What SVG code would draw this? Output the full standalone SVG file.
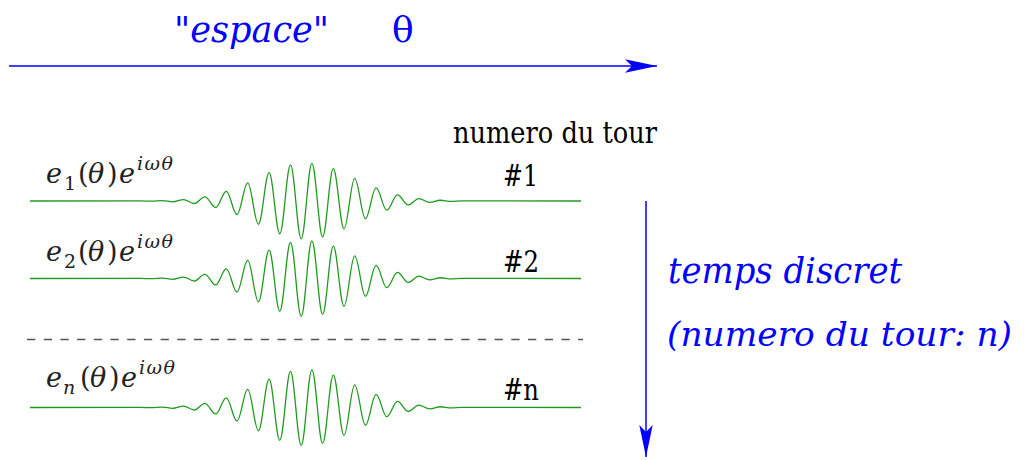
<svg xmlns="http://www.w3.org/2000/svg" xmlns:xlink="http://www.w3.org/1999/xlink" width="1026" height="460" viewBox="0 0 1026 460" font-family="DejaVu Serif, serif">
<style>
text{font-family:'DejaVu Serif',serif}
.blue{fill:#0000ff;font-style:italic;font-size:35px}
.num{fill:#000;font-size:29px}
.lbl{fill:#222;font-size:27px}
.it{font-style:italic}
.sm{font-size:19px}
.wave{fill:none;stroke:#1f9a1f;stroke-width:1.3}
.axis{stroke:#0000ff;stroke-width:1.5;fill:none}
</style>
<defs>
<marker id="arr" viewBox="-33 -8 34 16" refX="0" refY="0" markerWidth="34" markerHeight="16" markerUnits="userSpaceOnUse" orient="auto">
<path d="M0,0 L-32,-6.7 L-25,0 L-32,6.7 Z" fill="#0000ff"/>
</marker>
<path id="wave" class="wave" d="M30,0 L140.7,-0.1 C144.59,-0.1 147.51,0.21 151.4,0.21 S158.21,-0.42 162.1,-0.42 S168.91,0.81 172.8,0.81 S179.61,-1.46 183.5,-1.46 S190.31,2.52 194.2,2.52 S201.01,-4.13 204.9,-4.13 S211.71,6.45 215.6,6.45 S222.41,-9.58 226.3,-9.58 S233.11,13.52 237,13.52 S243.81,-18.17 247.7,-18.17 S254.51,23.24 258.4,23.24 S265.21,-28.28 269.1,-28.28 S275.91,32.74 279.8,32.74 S286.61,-36.07 290.5,-36.07 S297.31,37.81 301.2,37.81 S308.01,-37.71 311.9,-37.71 S318.71,35.8 322.6,35.8 S329.41,-32.33 333.3,-32.33 S340.11,27.78 344,27.78 S350.81,-22.71 354.7,-22.71 S361.51,17.67 365.4,17.67 S372.21,-13.08 376.1,-13.08 S382.91,9.21 386.8,9.21 S393.61,-6.18 397.5,-6.18 S404.31,3.94 408.2,3.94 S415.01,-2.39 418.9,-2.39 S425.71,1.38 429.6,1.38 S436.41,-0.76 440.3,-0.76 S447.11,0.4 451,0.4 S457.81,-0.2 461.7,-0.2 L581,0"/>
</defs>

<g id="connectors">
<line class="axis" x1="9" y1="66" x2="657" y2="66" marker-end="url(#arr)"/>
<line class="axis" x1="646" y1="201" x2="646" y2="457" marker-end="url(#arr)"/>
<line x1="27" y1="339.5" x2="583" y2="339.5" stroke="#555" stroke-width="1.3" stroke-dasharray="8.3 8.4"/>
</g>

<g id="space-label">
<text class="blue" x="174" y="42" textLength="155" lengthAdjust="spacingAndGlyphs">"espace"</text>
<text class="blue" x="392" y="42" style="font-style:normal;font-size:36px">θ</text>
</g>

<g id="time-label">
<text class="blue" x="668" y="283" textLength="234" lengthAdjust="spacingAndGlyphs">temps discret</text>
<text class="blue" x="667" y="346" style="font-size:33px" textLength="345" lengthAdjust="spacingAndGlyphs">(numero du tour: n)</text>
</g>

<g id="tour-header">
<text class="num" x="453" y="143" textLength="204" lengthAdjust="spacingAndGlyphs">numero du tour</text>
</g>

<g id="row1">
<use xlink:href="#wave" href="#wave" y="201"/>
<text class="lbl"><tspan class="it" x="46" y="183">e</tspan><tspan class="sm" x="64" y="190">1</tspan><tspan x="78" y="183">(</tspan><tspan class="it" x="88" y="183">θ</tspan><tspan x="107" y="183">)</tspan><tspan class="it" x="119" y="183">e</tspan><tspan class="it sm" x="137" y="170" letter-spacing="1.5">iωθ</tspan></text>
<text class="num" x="503" y="186" textLength="35" lengthAdjust="spacingAndGlyphs">#1</text>
</g>

<g id="row2">
<use xlink:href="#wave" href="#wave" y="278.5"/>
<text class="lbl"><tspan class="it" x="46" y="261">e</tspan><tspan class="sm" x="64" y="268">2</tspan><tspan x="78" y="261">(</tspan><tspan class="it" x="88" y="261">θ</tspan><tspan x="107" y="261">)</tspan><tspan class="it" x="119" y="261">e</tspan><tspan class="it sm" x="137" y="248" letter-spacing="1.5">iωθ</tspan></text>
<text class="num" x="503" y="272" textLength="36" lengthAdjust="spacingAndGlyphs">#2</text>
</g>

<g id="rown">
<use xlink:href="#wave" href="#wave" y="407.5"/>
<text class="lbl"><tspan class="it" x="46" y="387">e</tspan><tspan class="it sm" x="63" y="394">n</tspan><tspan x="80" y="387">(</tspan><tspan class="it" x="90" y="387">θ</tspan><tspan x="109" y="387">)</tspan><tspan class="it" x="121" y="387">e</tspan><tspan class="it sm" x="139" y="374" letter-spacing="1.5">iωθ</tspan></text>
<text class="num" x="503" y="400" textLength="36" lengthAdjust="spacingAndGlyphs">#n</text>
</g>
</svg>
